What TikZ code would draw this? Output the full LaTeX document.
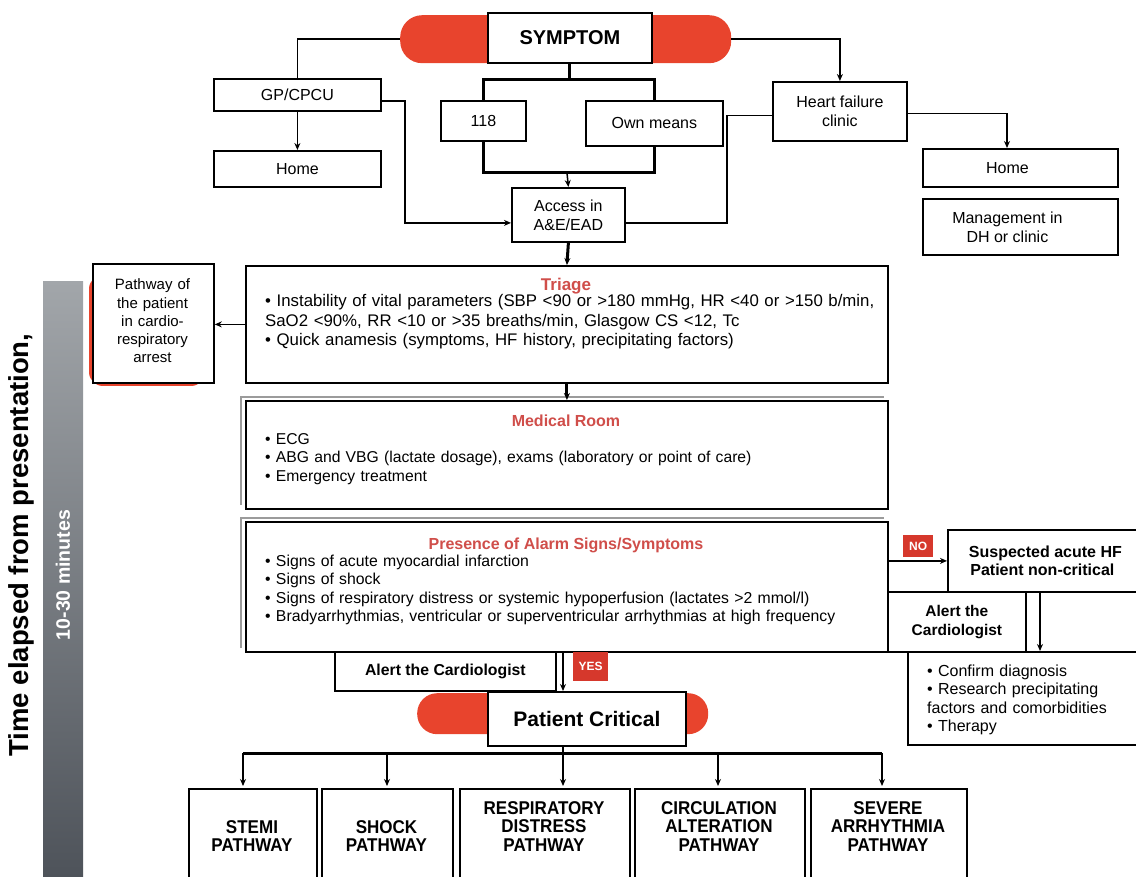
\documentclass[tikz,border=0pt]{standalone}
\usepackage{fontspec}
\setmainfont{Liberation Sans}
\newfontfamily\narrowsans[FakeStretch=0.92]{Liberation Sans}
\usetikzlibrary{arrows.meta}

\definecolor{pillred}{RGB}{232,68,45}
\definecolor{titlered}{RGB}{208,78,74}
\definecolor{tagred}{RGB}{214,56,44}
\definecolor{bartop}{RGB}{162,166,170}
\definecolor{barbot}{RGB}{78,83,90}
\definecolor{shadowgray}{RGB}{155,155,155}
\newcommand\fs[2]{\fontsize{#1}{#2}\selectfont}

\tikzset{
  box/.style={draw=black, line width=1.8pt, fill=white, inner sep=0pt,
              anchor=north west, align=center, font=\fs{16}{19}},
  pill/.style={fill=pillred, draw=none, rounded corners=22pt, inner sep=0pt,
               anchor=north west},
  link/.style={line width=1.5pt},
  heavy/.style={line width=3pt},
  arr/.style={-{Stealth[length=7pt,width=6pt]}},
  boxtitle/.style={font=\bfseries\fs{16}{19}, text=titlered, anchor=base, inner sep=0pt},
  body/.style={font=\fs{15.8}{18.5}, anchor=base west, text width=640pt,
               align=left, inner sep=0pt},
  tag/.style={fill=tagred, text=white, font=\bfseries\fs{12}{14}, inner sep=0pt,
              anchor=north west},
  pathtext/.style={font=\narrowsans\bfseries\fs{18.5}{18.5}, anchor=base,
                   text width=165pt, align=center, inner sep=0pt},
}

\begin{document}
\begin{tikzpicture}[x=1pt,y=-1pt]
\useasboundingbox (0,0) rectangle (1136,877);
\clip (0,0) rectangle (1136,877);

% time axis on the left
\node[anchor=north west, minimum width=40pt, minimum height=596pt, inner sep=0pt,
      top color=bartop, bottom color=barbot, draw=none] (timebar) at (43,281) {};
\node[rotate=90, text=white, font=\bfseries\fs{19.5}{22}] (span) at (63,575) {10-30 minutes};
\node[rotate=90, font=\bfseries\fs{27.5}{30}] (timelbl) at (21,545) {Time elapsed from presentation,};

% first contact
\node[pill, minimum width=331pt, minimum height=48pt] (sympill) at (400,15) {};
\node[box, minimum width=164pt, minimum height=50pt, font=\bfseries\fs{20}{24}] (sym) at (487,12) {SYMPTOM};

\node[box, minimum width=167pt, minimum height=32pt] (gp) at (213,78) {GP/CPCU};
\node[box, minimum width=167pt, minimum height=36pt] (homeL) at (213,150) {Home};
\node[box, minimum width=85pt, minimum height=40pt] (t118) at (440,100) {118};
\node[box, minimum width=137pt, minimum height=45pt] (own) at (585,100) {Own means};
\node[box, minimum width=113pt, minimum height=54pt] (access) at (511,187) {Access in\\A\&E/EAD};
\node[box, minimum width=134pt, minimum height=59pt] (hf) at (772,81) {Heart failure\\clinic};
\node[box, minimum width=195pt, minimum height=38pt] (homeR) at (922,148) {};
\node[font=\fs{16}{19}, inner sep=0pt] (homeRtxt) at ([xshift=-13pt]homeR.center) {Home};
\node[box, minimum width=195pt, minimum height=56pt] (mgmt) at (922,198) {};
\node[font=\fs{16}{19}, inner sep=0pt, align=center] (mgmttxt) at ([xshift=-13pt]mgmt.center)
  {Management in\\DH or clinic};

\draw[link] (sympill.west) -| (gp.north);
\draw[link, arr] (sympill.east) -| (hf.north);

\coordinate (split) at (567,80);
\coordinate (merge) at (567,173);
\draw[heavy] (sym.south) -- (sym.south |- split);
\draw[heavy] (t118.north) |- (split) -| (own.north);
\draw[heavy] (t118.south) |- (merge) -| (own.south);
\draw[link, arr] (merge) -- (access.north);

\coordinate (gpbend) at (405,0);
\coordinate (accin) at ([yshift=-8pt]access.west);
\draw[line width=2.2pt, arr] ([yshift=-6pt]gp.east) -| (gpbend |- accin) -- (accin);
\coordinate (hfbend) at (727,0);
\coordinate (accout) at ([yshift=-8pt]access.east);
\draw[link] ([yshift=-4pt]hf.west) -| (hfbend |- accout) -- (accout);
\coordinate (hrx) at (1007,0);
\draw[link, arr] ([yshift=-2pt]hf.east) -| (hrx |- homeR.north);
\draw[link, arr] (gp.south) -- (homeL.north);

% emergency department
\fill[pillred, rounded corners=14pt] (89,275) rectangle (205,386);
\node[box, minimum width=121pt, minimum height=119pt] (path) at (92,263) {};
\node[font=\fs{15}{18.2}, anchor=base, text width=118pt, align=center, inner sep=0pt]
  (pathtxt) at (152.5,290) {Pathway of\\the patient\\in cardio-\\respiratory\\arrest};

\node[box, minimum width=642pt, minimum height=117pt] (triage) at (245,265) {};
\node[boxtitle, font=\bfseries\fs{17}{19}] (triagettl) at (566,291) {Triage};
\node[body, font=\fs{16.8}{19.5}] (triagetxt) at (265,307)
  {• Instability of vital parameters (SBP <90 or >180 mmHg, HR <40 or >150 b/min,\\
   SaO2 <90\%, RR <10 or >35 breaths/min, Glasgow CS <12, Tc\\
   • Quick anamesis (symptoms, HF history, precipitating factors)};

\draw[shadowgray, line width=1.8pt] (241,505) -- (241,397) -- (884,397);
\node[box, minimum width=642pt, minimum height=108pt] (med) at (245,400) {};
\node[boxtitle] (medttl) at (566,427) {Medical Room};
\node[body, font=\fs{15.7}{18.5}] (medtxt) at (265,444)
  {• ECG\\
   • ABG and VBG (lactate dosage), exams (laboratory or point of care)\\
   • Emergency treatment};

\draw[shadowgray, line width=1.8pt] (241,648) -- (241,518) -- (884,518);
\node[box, minimum width=642pt, minimum height=130pt] (pres) at (245,521) {};
\node[boxtitle] (presttl) at (566,549) {Presence of Alarm Signs/Symptoms};
\node[body] (prestxt) at (265,566)
  {• Signs of acute myocardial infarction\\
   • Signs of shock\\
   • Signs of respiratory distress or systemic hypoperfusion (lactates >2 mmol/l)\\
   • Bradyarrhythmias, ventricular or superventricular arrhythmias at high frequency};

\draw[link, arr] (triage.west) -- (triage.west -| path.east);
\draw[heavy, arr] (access.south) -- (triage.north);
\draw[heavy, arr] (triage.south) -- (med.north);

% non-critical branch
\node[box, minimum width=195pt, minimum height=62pt, font=\bfseries\fs{16}{18.5}] (susp) at (947,529)
  {Suspected acute HF\\Patient non-critical\hspace*{6pt}};
\node[box, minimum width=138pt, minimum height=60pt, font=\bfseries\fs{15.5}{19}] (alertR) at (887,591)
  {Alert the\\Cardiologist};
\node[box, minimum width=120pt, minimum height=60pt] (emptyR) at (1025,591) {};
\node[box, minimum width=235pt, minimum height=93pt] (conf) at (907,651) {};
\node[font=\fs{16}{18.5}, anchor=base west, text width=215pt, align=left, inner sep=0pt]
  (conftxt) at (927,676)
  {• Confirm diagnosis\\
   • Research precipitating\\
   factors and comorbidities\\
   • Therapy};

\node[tag, minimum width=30pt, minimum height=22pt] (no) at (903,535) {NO};
\draw[link, arr] (pres.east |- susp.west) -- (susp.west);
\coordinate (sx) at (1040,0);
\draw[link, arr] (sx |- susp.south) -- (sx |- conf.north);

% critical branch
\node[box, minimum width=221pt, minimum height=39pt, font=\bfseries\fs{15.8}{18.5}] (alertL) at (334,651)
  {Alert the Cardiologist};
\node[tag, minimum width=35pt, minimum height=29pt] (yes) at (573,652) {YES};
\node[pill, minimum width=291pt, minimum height=41pt, rounded corners=20pt] (critpill) at (417,693) {};
\node[box, minimum width=198pt, minimum height=54pt, font=\bfseries\fs{21}{24}] (crit) at (487,691)
  {Patient Critical};
\coordinate (yx) at (563,0);
\draw[link, arr] (yx |- pres.south) -- (yx |- crit.north);

% specific pathways
\node[box, minimum width=128pt, minimum height=100pt] (stemi) at (188,788) {};
\node[box, minimum width=131pt, minimum height=100pt] (shock) at (321,788) {};
\node[box, minimum width=170pt, minimum height=100pt] (resp) at (459,788) {};
\node[box, minimum width=170pt, minimum height=100pt] (circ) at (634,788) {};
\node[box, minimum width=156pt, minimum height=100pt] (severe) at (810,788) {};
\node[pathtext] (stemitxt) at (252,833) {STEMI\\PATHWAY};
\node[pathtext] (shocktxt) at (386.5,833) {SHOCK\\PATHWAY};
\node[pathtext] (resptxt) at (544,814) {RESPIRATORY\\DISTRESS\\PATHWAY};
\node[pathtext] (circtxt) at (719,814) {CIRCULATION\\ALTERATION\\PATHWAY};
\node[pathtext] (severetxt) at (888,814) {SEVERE\\ARRHYTHMIA\\PATHWAY};

\coordinate (bus) at (563,753);
\coordinate (b1) at (243,0);
\coordinate (b2) at (387,0);
\coordinate (b3) at (563,0);
\coordinate (b4) at (718,0);
\coordinate (b5) at (882,0);
\draw[line width=2pt] (bus |- crit.south) -- (bus);
\draw[heavy] (b1 |- bus) -- (b5 |- bus);
\foreach \b/\t in {b1/stemi, b2/shock, b3/resp, b4/circ, b5/severe}
  \draw[link, arr] (\b |- bus) -- ([yshift=2pt]\b |- \t.north);
\end{tikzpicture}
\end{document}
